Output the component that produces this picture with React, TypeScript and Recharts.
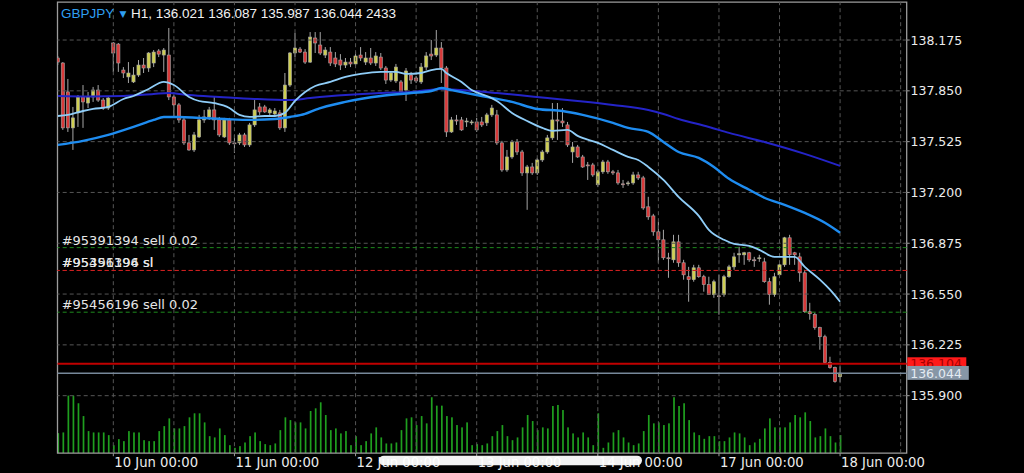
import React from 'react';
import { ComposedChart, Bar, Line, XAxis, YAxis, ReferenceLine, ReferenceArea } from 'recharts';

const W = 1024;
const H = 473;
const PLOT_LEFT = 57.5;
const AXIS_W = 117.3;
const AXIS_H = 19.8;
const TOP = 2.2;

const X_DOMAIN: [number, number] = [-0.06, 168.2];
const PRICE_DOMAIN: [number, number] = [135.532, 138.417];
const VOL_DOMAIN: [number, number] = [0, 60600];

const headerSymbol = 'GBPJPY';
const headerRest = 'H1, 136.021 136.087 135.987 136.044 2433';

const opens = [
  138.060, 138.028, 137.843, 137.613, 137.709, 137.811, 137.772, 137.811, 137.855, 137.791,
  137.740, 138.156, 138.149, 137.983, 137.939, 137.907, 137.951, 138.015, 137.996, 138.028,
  138.105, 138.079, 138.079, 137.811, 137.760, 137.664, 137.517, 137.472, 137.555, 137.664,
  137.683, 137.728, 137.664, 137.555, 137.664, 137.517, 137.517, 137.568, 137.504, 137.632,
  137.747, 137.747, 137.709, 137.702, 137.709, 137.613, 137.887, 138.092, 138.117, 138.098,
  138.034, 138.188, 138.143, 138.079, 138.098, 138.060, 138.047, 138.015, 138.034, 138.022,
  138.079, 138.034, 138.060, 138.028, 138.066, 137.996, 137.919, 137.913, 137.907, 137.855,
  137.951, 137.932, 137.907, 138.002, 138.085, 138.079, 138.124, 137.996, 137.587, 137.664,
  137.664, 137.651, 137.645, 137.651, 137.651, 137.645, 137.696, 137.696, 137.517, 137.344,
  137.427, 137.523, 137.459, 137.325, 137.363, 137.325, 137.408, 137.459, 137.549, 137.664,
  137.657, 137.632, 137.459, 137.491, 137.427, 137.376, 137.376, 137.249, 137.332, 137.395,
  137.332, 137.325, 137.255, 137.255, 137.261, 137.312, 137.293, 137.108, 137.050, 136.948,
  136.897, 136.782, 136.769, 136.884, 136.750, 136.661, 136.642, 136.718, 136.661, 136.610,
  136.546, 136.539, 136.546, 136.661, 136.724, 136.801, 136.801, 136.814, 136.769, 136.776,
  136.756, 136.629, 136.546, 136.673, 136.737, 136.910, 136.814, 136.788, 136.686, 136.437,
  136.418, 136.335, 136.277, 136.111, 136.079, 136.021,
];
const highs = [
  138.073, 138.034, 137.926, 137.747, 137.823, 137.887, 137.843, 137.875, 137.887, 137.804,
  137.811, 138.162, 138.156, 138.002, 138.034, 138.002, 138.047, 138.060, 138.098, 138.111,
  138.117, 138.124, 138.252, 137.823, 137.772, 137.677, 137.568, 137.587, 137.696, 137.728,
  137.747, 137.811, 137.683, 137.677, 137.677, 137.568, 137.581, 137.581, 137.645, 137.791,
  137.772, 137.760, 137.740, 137.740, 137.728, 137.964, 138.098, 138.220, 138.130, 138.117,
  138.226, 138.226, 138.226, 138.130, 138.130, 138.098, 138.085, 138.060, 138.060, 138.098,
  138.130, 138.098, 138.124, 138.098, 138.092, 138.009, 137.977, 138.022, 137.919, 137.996,
  137.971, 137.945, 138.028, 138.098, 138.175, 138.239, 138.162, 138.009, 137.683, 137.696,
  137.683, 137.677, 137.664, 137.677, 137.683, 137.709, 137.760, 137.728, 137.530, 137.472,
  137.536, 137.542, 137.472, 137.376, 137.389, 137.421, 137.472, 137.568, 137.772, 137.772,
  137.740, 137.651, 137.523, 137.504, 137.440, 137.395, 137.389, 137.344, 137.408, 137.408,
  137.344, 137.344, 137.280, 137.274, 137.332, 137.332, 137.306, 137.172, 137.063, 137.012,
  136.961, 136.814, 136.929, 136.929, 136.769, 136.724, 136.737, 136.737, 136.673, 136.661,
  136.642, 136.673, 136.673, 136.737, 136.814, 136.852, 136.820, 136.820, 136.788, 136.801,
  136.782, 136.654, 136.686, 136.750, 136.916, 136.929, 136.820, 136.814, 136.705, 136.494,
  136.430, 136.341, 136.290, 136.149, 136.086, 136.087,
];
const lows = [
  138.015, 137.600, 137.587, 137.472, 137.619, 137.613, 137.740, 137.779, 137.779, 137.728,
  137.728, 137.971, 137.971, 137.932, 137.900, 137.900, 137.939, 137.964, 137.971, 138.002,
  138.066, 137.971, 137.791, 137.683, 137.645, 137.504, 137.466, 137.459, 137.549, 137.645,
  137.664, 137.600, 137.555, 137.549, 137.504, 137.453, 137.504, 137.491, 137.491, 137.619,
  137.696, 137.709, 137.683, 137.683, 137.600, 137.587, 137.875, 138.066, 138.092, 138.022,
  138.028, 138.092, 138.079, 138.060, 138.009, 138.002, 137.983, 137.996, 138.002, 138.009,
  138.041, 138.015, 138.015, 138.009, 137.983, 137.894, 137.907, 137.900, 137.823, 137.785,
  137.894, 137.900, 137.894, 137.983, 138.047, 138.066, 137.900, 137.555, 137.581, 137.632,
  137.594, 137.619, 137.632, 137.587, 137.619, 137.625, 137.683, 137.504, 137.332, 137.332,
  137.415, 137.440, 137.306, 137.089, 137.312, 137.312, 137.395, 137.447, 137.536, 137.536,
  137.619, 137.491, 137.389, 137.421, 137.357, 137.280, 137.300, 137.236, 137.319, 137.319,
  137.312, 137.249, 137.229, 137.242, 137.249, 137.280, 137.089, 137.025, 136.923, 136.750,
  136.769, 136.654, 136.750, 136.724, 136.642, 136.501, 136.629, 136.654, 136.565, 136.546,
  136.526, 136.418, 136.533, 136.654, 136.705, 136.750, 136.737, 136.756, 136.724, 136.756,
  136.622, 136.482, 136.533, 136.661, 136.724, 136.737, 136.737, 136.629, 136.430, 136.386,
  136.322, 136.194, 136.105, 136.073, 135.983, 135.987,
];
const closes = [
  138.034, 137.613, 137.613, 137.677, 137.811, 137.779, 137.811, 137.855, 137.791, 137.740,
  137.804, 138.092, 138.028, 137.964, 137.964, 137.951, 138.015, 137.996, 138.092, 138.098,
  138.085, 138.111, 137.811, 137.760, 137.664, 137.517, 137.472, 137.568, 137.664, 137.683,
  137.728, 137.664, 137.568, 137.664, 137.517, 137.511, 137.568, 137.504, 137.632, 137.728,
  137.715, 137.715, 137.728, 137.721, 137.613, 137.887, 138.092, 138.124, 138.098, 138.034,
  138.194, 138.156, 138.092, 138.111, 138.028, 138.022, 138.015, 138.034, 138.022, 138.073,
  138.060, 138.060, 138.028, 138.073, 137.996, 137.919, 137.964, 138.002, 137.843, 137.977,
  137.919, 137.913, 138.002, 138.073, 138.073, 138.124, 137.996, 137.587, 137.664, 137.657,
  137.600, 137.657, 137.651, 137.600, 137.632, 137.696, 137.740, 137.517, 137.344, 137.427,
  137.523, 137.459, 137.325, 137.363, 137.325, 137.408, 137.459, 137.549, 137.664, 137.657,
  137.645, 137.504, 137.491, 137.427, 137.363, 137.370, 137.312, 137.332, 137.395, 137.332,
  137.325, 137.261, 137.249, 137.261, 137.312, 137.293, 137.101, 137.044, 136.948, 136.897,
  136.782, 136.776, 136.884, 136.750, 136.673, 136.642, 136.718, 136.661, 136.610, 136.546,
  136.629, 136.533, 136.661, 136.724, 136.788, 136.808, 136.814, 136.769, 136.763, 136.782,
  136.629, 136.546, 136.661, 136.737, 136.910, 136.801, 136.801, 136.686, 136.437, 136.424,
  136.335, 136.277, 136.111, 136.079, 135.990, 136.044,
];
const volumes = [
  2700, 2790, 7740, 7740, 6710, 4990, 2970, 2790, 2790, 2790,
  2430, 1080, 1890, 1620, 2970, 2790, 2790, 1750, 1620, 1620,
  2970, 3640, 4680, 3330, 3330, 3640, 4820, 5360, 5360, 4140,
  2290, 2120, 3330, 2430, 1080, 720, 950, 1440, 2290, 2790,
  1620, 1220, 1080, 1310, 3100, 4820, 4450, 4140, 4140, 3330,
  5670, 6030, 6840, 5130, 3100, 3330, 2660, 2970, 1080, 2290,
  1080, 1620, 2660, 3470, 2120, 1310, 1310, 1440, 3100, 4680,
  4820, 3780, 4990, 4010, 7520, 6390, 6390, 4990, 4820, 3780,
  3470, 4140, 1080, 1220, 1080, 1310, 2290, 2970, 3780, 2290,
  1750, 2120, 3470, 5130, 4320, 3100, 3470, 3330, 6340, 6480,
  5800, 3470, 2660, 2120, 2790, 2120, 1080, 5360, 720, 1440,
  2790, 3100, 2120, 1440, 1080, 1310, 2970, 5130, 4010, 4140,
  3780, 4010, 7520, 6340, 6710, 4450, 2790, 2430, 1930, 2290,
  2290, 1620, 1620, 2120, 2790, 2660, 2120, 1080, 1440, 1930,
  3330, 4680, 3470, 3470, 3470, 4140, 5130, 4820, 5490, 4320,
  2120, 2290, 3330, 2290, 1440, 2433,
];

const maFast: [number, number][] = [
  [0, 137.689], [2, 137.696], [5, 137.721], [7, 137.734], [10, 137.747], [13, 137.798], [15, 137.817],
  [18, 137.862], [21, 137.907], [23, 137.887], [26, 137.811], [28, 137.785], [31, 137.772], [34, 137.740],
  [36, 137.696], [38, 137.683], [41, 137.689], [43, 137.689], [45, 137.709], [47, 137.785], [49, 137.843],
  [51, 137.881], [54, 137.907], [57, 137.939], [60, 137.958], [64, 137.971], [67, 137.971], [69, 137.958],
  [72, 137.964], [74, 137.983], [76, 137.990], [77, 137.964], [80, 137.907], [82, 137.855], [85, 137.817],
  [87, 137.785], [90, 137.709], [93, 137.657], [96, 137.613], [98, 137.594], [101, 137.600], [103, 137.562],
  [107, 137.517], [110, 137.472], [113, 137.427], [115, 137.408], [117, 137.363], [120, 137.280],
  [123, 137.172], [127, 137.050], [129, 136.961], [132, 136.897], [134, 136.871], [137, 136.859],
  [139, 136.833], [142, 136.788], [144, 136.788], [146, 136.788], [148, 136.724], [151, 136.642],
  [153, 136.578], [155, 136.501],
];
const maMid: [number, number][] = [
  [0, 137.504], [5, 137.530], [10, 137.568], [15, 137.619], [19, 137.664], [21, 137.683], [24, 137.683],
  [28, 137.677], [33, 137.670], [38, 137.664], [43, 137.670], [46, 137.683], [49, 137.702], [51, 137.728],
  [57, 137.779], [64, 137.817], [70, 137.836], [74, 137.849], [76, 137.868], [78, 137.855], [84, 137.817],
  [90, 137.779], [95, 137.734], [100, 137.721], [104, 137.696], [110, 137.645], [113, 137.613],
  [117, 137.587], [120, 137.523], [123, 137.459], [127, 137.421], [130, 137.363], [133, 137.287],
  [137, 137.217], [140, 137.166], [144, 137.121], [148, 137.069], [152, 137.006], [155, 136.942],
];
const maSlow: [number, number][] = [
  [0, 137.817], [6, 137.814], [13, 137.817], [19, 137.830], [22, 137.836], [26, 137.823], [32, 137.811],
  [39, 137.798], [46, 137.791], [50, 137.804], [57, 137.823], [64, 137.836], [70, 137.843], [76, 137.862],
  [80, 137.855], [87, 137.836], [93, 137.817], [97, 137.804], [103, 137.785], [110, 137.760],
  [117, 137.728], [120, 137.702], [123, 137.670], [129, 137.619], [133, 137.581], [140, 137.523],
  [148, 137.447], [155, 137.370],
];

const dateTickIdx = [11, 35, 59, 83, 107, 131, 155];
const dateTickLabels = ['10 Jun 00:00', '11 Jun 00:00', '12 Jun 00:00', '13 Jun 00:00', '14 Jun 00:00', '17 Jun 00:00', '18 Jun 00:00'];
const priceTicks = [138.175, 137.85, 137.525, 137.2, 136.875, 136.55, 136.225, 135.9];
const gridIdx = [11, 23, 35, 47, 59, 71, 83, 95, 107, 119, 131, 143, 155, 167];

const orderLines = [
  { price: 136.847, label: '#95391394 sell 0.02', color: '#1d8a1d' },
  { price: 136.701, label: '#95391394 sl', color: '#cc2020' },
  { price: 136.701, label: '#95456196 sl', color: '#cc2020' },
  { price: 136.434, label: '#95456196 sell 0.02', color: '#1d8a1d' },
];
const askPrice = 136.104;
const bidPrice = 136.044;

const rows: any[] = opens.map((o, i) => ({
  i,
  o,
  h: highs[i],
  l: lows[i],
  c: closes[i],
  range: [lows[i], highs[i]],
  vol: volumes[i],
}));
maFast.forEach(([i, v]) => { rows[i].fast = v; });
maMid.forEach(([i, v]) => { rows[i].mid = v; });
maSlow.forEach(([i, v]) => { rows[i].slow = v; });

const FONT = '"DejaVu Sans", sans-serif';
const BULL = '#cfcf52';
const BEAR = '#d83a3a';
const WICK = '#a6a6a6';

const Candle = (props: any) => {
  const { x, y, width, height, payload } = props;
  if (!payload || height == null || isNaN(y)) return null;
  const { o, h, l, c } = payload;
  const cx = x + width / 2;
  const k = h - l > 0 ? height / (h - l) : 0;
  const py = (p: number) => y + (h - p) * k;
  const up = c >= o;
  const top = py(Math.max(o, c));
  const bot = py(Math.min(o, c));
  return (
    <g>
      <line x1={cx} x2={cx} y1={y} y2={y + height} stroke={WICK} strokeWidth={1} />
      <rect x={cx - 1.6} y={top} width={3.2} height={Math.max(bot - top, 0.9)} fill={up ? BULL : BEAR} stroke={WICK} strokeWidth={0.6} />
    </g>
  );
};

const VolBar = (props: any) => {
  const { x, y, width, height } = props;
  if (!height || height <= 0) return null;
  const cx = x + width / 2;
  return <rect x={cx - 0.85} y={y} width={1.7} height={height} fill="#1f9f1f" />;
};

const DateTick = (props: any) => {
  const { x, y, payload } = props;
  const idx = dateTickIdx.indexOf(payload.value);
  return (
    <text x={x + 1} y={y + 10.4} fill="#ececec" fontSize={13.2} fontFamily={FONT} textAnchor="start">
      {idx >= 0 ? dateTickLabels[idx] : ''}
    </text>
  );
};

const PriceTick = (props: any) => {
  const { x, y, payload } = props;
  return (
    <text x={x + 0.8} y={y + 4.6} fill="#ececec" fontSize={12.5} fontFamily={FONT} textAnchor="start">
      {Number(payload.value).toFixed(3)}
    </text>
  );
};

const orderLabel = (text: string) => (props: any) => {
  const vb = props.viewBox;
  if (!vb) return null;
  return (
    <text x={vb.x + 4.2} y={vb.y - 3} fill="#e6e6e6" fontSize={13} fontFamily={FONT}>
      {text}
    </text>
  );
};

const priceTag = (text: string, bg: string, fg: string, top: number, h: number, w: number) => (props: any) => {
  const vb = props.viewBox;
  if (!vb) return null;
  const x = vb.x + vb.width;
  return (
    <g>
      <rect x={x + 0.6} y={vb.y + top} width={w} height={h} fill={bg} />
      <text x={x + 3.5} y={vb.y + 4.6} fill={fg} fontSize={12.5} fontFamily={FONT}>
        {text}
      </text>
    </g>
  );
};

export default function App() {
  return (
    <div style={{ position: 'absolute', left: 0, top: 0, width: W, height: H, background: '#000', overflow: 'hidden' }}>
      <div style={{ position: 'absolute', left: 0, top: 0 }}>
        <ComposedChart width={W} height={H} data={rows} margin={{ top: TOP, left: PLOT_LEFT, right: AXIS_W, bottom: AXIS_H }}>
          <XAxis dataKey="i" type="number" domain={X_DOMAIN} allowDataOverflow hide />
          <YAxis type="number" domain={VOL_DOMAIN} allowDataOverflow hide />
          <Bar dataKey="vol" barSize={2} shape={(p: any) => <VolBar {...p} />} isAnimationActive={false} />
        </ComposedChart>
      </div>
      <div style={{ position: 'absolute', left: 0, top: 0 }}>
        <ComposedChart width={W} height={H} data={rows} margin={{ top: TOP, left: PLOT_LEFT, right: 0, bottom: 0 }}>
          <XAxis
            dataKey="i"
            type="number"
            domain={X_DOMAIN}
            allowDataOverflow
            ticks={dateTickIdx}
            interval={0}
            height={AXIS_H}
            tickSize={3}
            tickMargin={0}
            axisLine={false}
            tickLine={{ stroke: '#9c9c9c' }}
            tick={(p: any) => <DateTick {...p} />}
          />
          <YAxis
            orientation="right"
            type="number"
            domain={PRICE_DOMAIN}
            allowDataOverflow
            ticks={priceTicks}
            interval={0}
            width={AXIS_W}
            tickSize={3}
            tickMargin={0}
            axisLine={false}
            tickLine={{ stroke: '#9c9c9c' }}
            tick={(p: any) => <PriceTick {...p} />}
          />
          {priceTicks.map((p) => (
            <ReferenceLine key={'hg' + p} y={p} stroke="#565656" strokeDasharray="4 3" />
          ))}
          {gridIdx.map((v) => (
            <ReferenceLine key={'vg' + v} x={v} stroke="#565656" strokeDasharray="4 3" />
          ))}
          {orderLines.map((ol, k) => (
            <ReferenceLine key={'ol' + k} y={ol.price} stroke={ol.color} strokeDasharray="4 3" label={orderLabel(ol.label)} />
          ))}
          <Bar dataKey="range" barSize={3} shape={(p: any) => <Candle {...p} />} isAnimationActive={false} />
          <Line dataKey="slow" type="monotone" stroke="#2424c8" strokeWidth={2} dot={false} connectNulls isAnimationActive={false} />
          <Line dataKey="mid" type="monotone" stroke="#1e8cf0" strokeWidth={2.4} dot={false} connectNulls isAnimationActive={false} />
          <Line dataKey="fast" type="monotone" stroke="#8fcdf8" strokeWidth={1.8} dot={false} connectNulls isAnimationActive={false} />
          <ReferenceLine y={askPrice} stroke="#c00000" strokeWidth={2} label={priceTag('136.104', '#ff1a1a', '#a30000', -6.5, 13, 59)} />
          <ReferenceLine y={bidPrice} stroke="#77889a" strokeWidth={1.5} label={priceTag('136.044', '#8796a6', '#e4ebf2', -7.2, 13.9, 61.5)} />
          <ReferenceArea
            x1={X_DOMAIN[0]}
            x2={X_DOMAIN[1]}
            y1={PRICE_DOMAIN[0]}
            y2={PRICE_DOMAIN[1]}
            fill="none"
            stroke="#9c9c9c"
            strokeWidth={1.3}
            ifOverflow="visible"
          />
        </ComposedChart>
      </div>
      <svg width={W} height={H} style={{ position: 'absolute', left: 0, top: 0, pointerEvents: 'none' }}>
        <text x={61} y={18.3} fill="#2f9ff0" fontSize={13.5} fontFamily='"Liberation Sans", Arial, sans-serif'>
          {headerSymbol}
        </text>
        <text x={119.5} y={16.8} fill="#2f9ff0" fontSize={9} fontFamily={FONT}>
          ▼
        </text>
        <text x={131} y={18.3} fill="#f2f2f2" fontSize={13.5} fontFamily='"Liberation Sans", Arial, sans-serif'>
          {headerRest}
        </text>
        <rect x={379} y={455.7} width={263} height={9.6} rx={4.8} fill="#ffffff" opacity={0.95} />
      </svg>
    </div>
  );
}
